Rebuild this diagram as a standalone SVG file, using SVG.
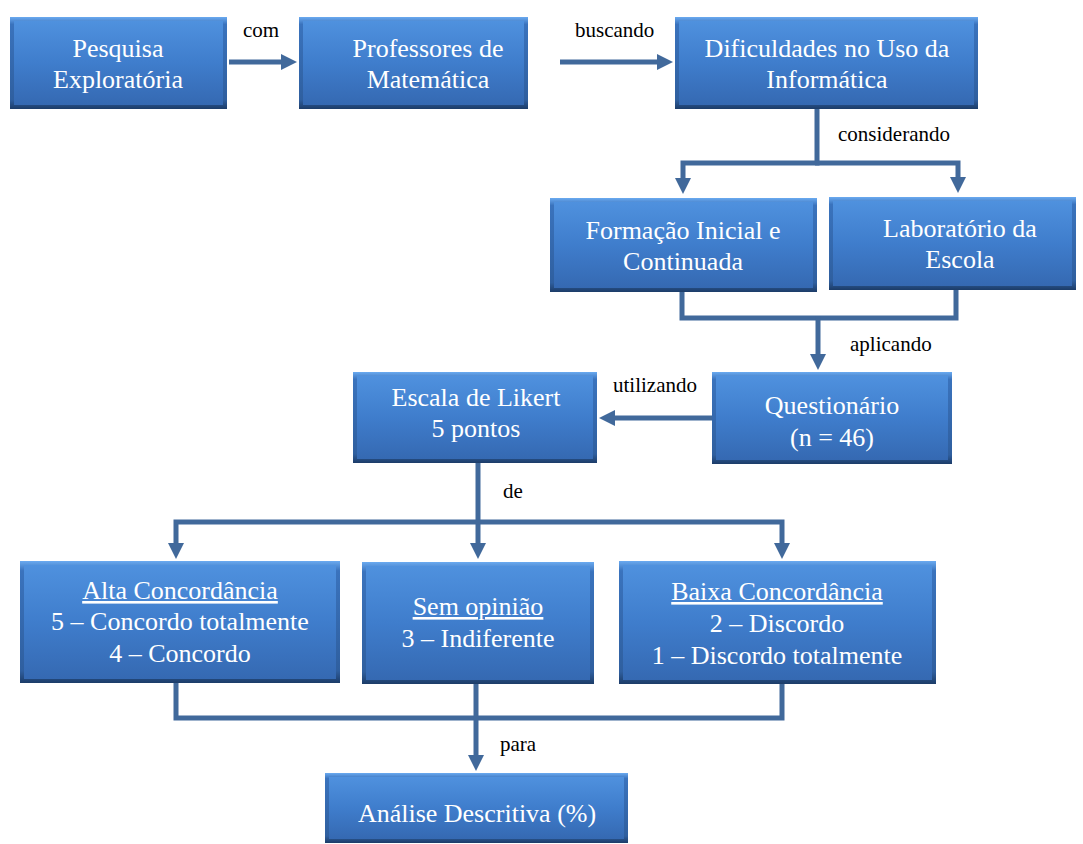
<svg xmlns="http://www.w3.org/2000/svg" width="1083" height="844" viewBox="0 0 1083 844" font-family="Liberation Serif, serif">
<defs>
<linearGradient id="body" x1="0" y1="0" x2="0" y2="1">
<stop offset="0" stop-color="#4f91de"/>
<stop offset="0.5" stop-color="#3f7dcc"/>
<stop offset="1" stop-color="#3569b2"/>
</linearGradient>
<linearGradient id="edge" x1="0" y1="0" x2="0" y2="1">
<stop offset="0" stop-color="#6aaaf0"/>
<stop offset="0.08" stop-color="#3a73bd"/>
<stop offset="0.9" stop-color="#2f5f9f"/>
<stop offset="1" stop-color="#1c3c68"/>
</linearGradient>
<marker id="ah" viewBox="0 0 16 16" markerWidth="16" markerHeight="16" refX="6" refY="8" orient="auto" markerUnits="userSpaceOnUse">
<path d="M0,0 L16,8 L0,16 z" fill="#41699b"/>
</marker>
</defs>
<style>
.box{fill:url(#edge);}
.in{fill:url(#body);}
.t{font-size:26px;fill:#ffffff;text-anchor:middle;}
.l{font-size:21px;fill:#000000;}
.c{fill:none;stroke:#41699b;stroke-width:5;}
.ca{fill:none;stroke:#41699b;stroke-width:5;marker-end:url(#ah);}
.u{text-decoration:underline;}
</style>
<rect width="1083" height="844" fill="#ffffff"/>

<g id="connectors">
<path class="ca" d="M229,62 H287"/>
<path class="ca" d="M560,62 H663"/>
<path class="ca" d="M817,109 V163 H683 V184"/>
<path class="ca" d="M815,163 H958 V183"/>
<path class="c" d="M682,292 V318 H956 V290"/>
<path class="ca" d="M818,316 V360"/>
<path class="ca" d="M712,418 H609"/>
<path class="ca" d="M478,463 V549"/>
<path class="ca" d="M480,522 H176 V549"/>
<path class="ca" d="M476,522 H782 V549"/>
<path class="c" d="M176,683 V718 H782 V684"/>
<path class="ca" d="M476,684 V761"/>
<text class="l" x="243" y="37">com</text>
<text class="l" x="575" y="37">buscando</text>
<text class="l" x="838" y="141">considerando</text>
<text class="l" x="850" y="351">aplicando</text>
<text class="l" x="613" y="392">utilizando</text>
<text class="l" x="503" y="498">de</text>
<text class="l" x="500" y="751">para</text>
</g>

<g id="n1"><rect class="box" x="10" y="17" width="217" height="92"/><rect class="in" x="14" y="21" width="209" height="84"/>
<text class="t" x="118" y="57">Pesquisa</text><text class="t" x="118" y="88">Exploratória</text></g>

<g id="n2"><rect class="box" x="299" y="17" width="229" height="92"/><rect class="in" x="303" y="21" width="221" height="84"/>
<text class="t" x="428" y="57">Professores de</text><text class="t" x="428" y="88">Matemática</text></g>

<g id="n3"><rect class="box" x="675" y="17" width="303" height="92"/><rect class="in" x="679" y="21" width="295" height="84"/>
<text class="t" x="827" y="57">Dificuldades no Uso da</text><text class="t" x="827" y="88">Informática</text></g>

<g id="n4"><rect class="box" x="550" y="198" width="267" height="94"/><rect class="in" x="554" y="202" width="259" height="86"/>
<text class="t" x="683" y="239">Formação Inicial e</text><text class="t" x="683" y="270">Continuada</text></g>

<g id="n5"><rect class="box" x="829" y="197" width="247" height="93"/><rect class="in" x="833" y="201" width="239" height="85"/>
<text class="t" x="960" y="237">Laboratório da</text><text class="t" x="960" y="268">Escola</text></g>

<g id="n6"><rect class="box" x="712" y="372" width="240" height="92"/><rect class="in" x="716" y="376" width="232" height="84"/>
<text class="t" x="832" y="414">Questionário</text><text class="t" x="832" y="446">(n = 46)</text></g>

<g id="n7"><rect class="box" x="353" y="372" width="244" height="91"/><rect class="in" x="357" y="376" width="236" height="83"/>
<text class="t" x="476" y="406">Escala de Likert</text><text class="t" x="476" y="437">5 pontos</text></g>

<g id="n8"><rect class="box" x="20" y="561" width="320" height="122"/><rect class="in" x="24" y="565" width="312" height="114"/>
<text class="t u" x="180" y="599">Alta Concordância</text><text class="t" x="180" y="630">5 – Concordo totalmente</text><text class="t" x="180" y="662">4 – Concordo</text></g>

<g id="n9"><rect class="box" x="362" y="562" width="232" height="122"/><rect class="in" x="366" y="566" width="224" height="114"/>
<text class="t u" x="478" y="615">Sem opinião</text><text class="t" x="478" y="647">3 – Indiferente</text></g>

<g id="n10"><rect class="box" x="619" y="561" width="317" height="123"/><rect class="in" x="623" y="565" width="309" height="115"/>
<text class="t u" x="777" y="600">Baixa Concordância</text><text class="t" x="777" y="632">2 – Discordo</text><text class="t" x="777" y="664">1 – Discordo totalmente</text></g>

<g id="n11"><rect class="box" x="325" y="773" width="303" height="70"/><rect class="in" x="329" y="777" width="295" height="62"/>
<text class="t" x="477" y="822">Análise Descritiva (%)</text></g>
</svg>
